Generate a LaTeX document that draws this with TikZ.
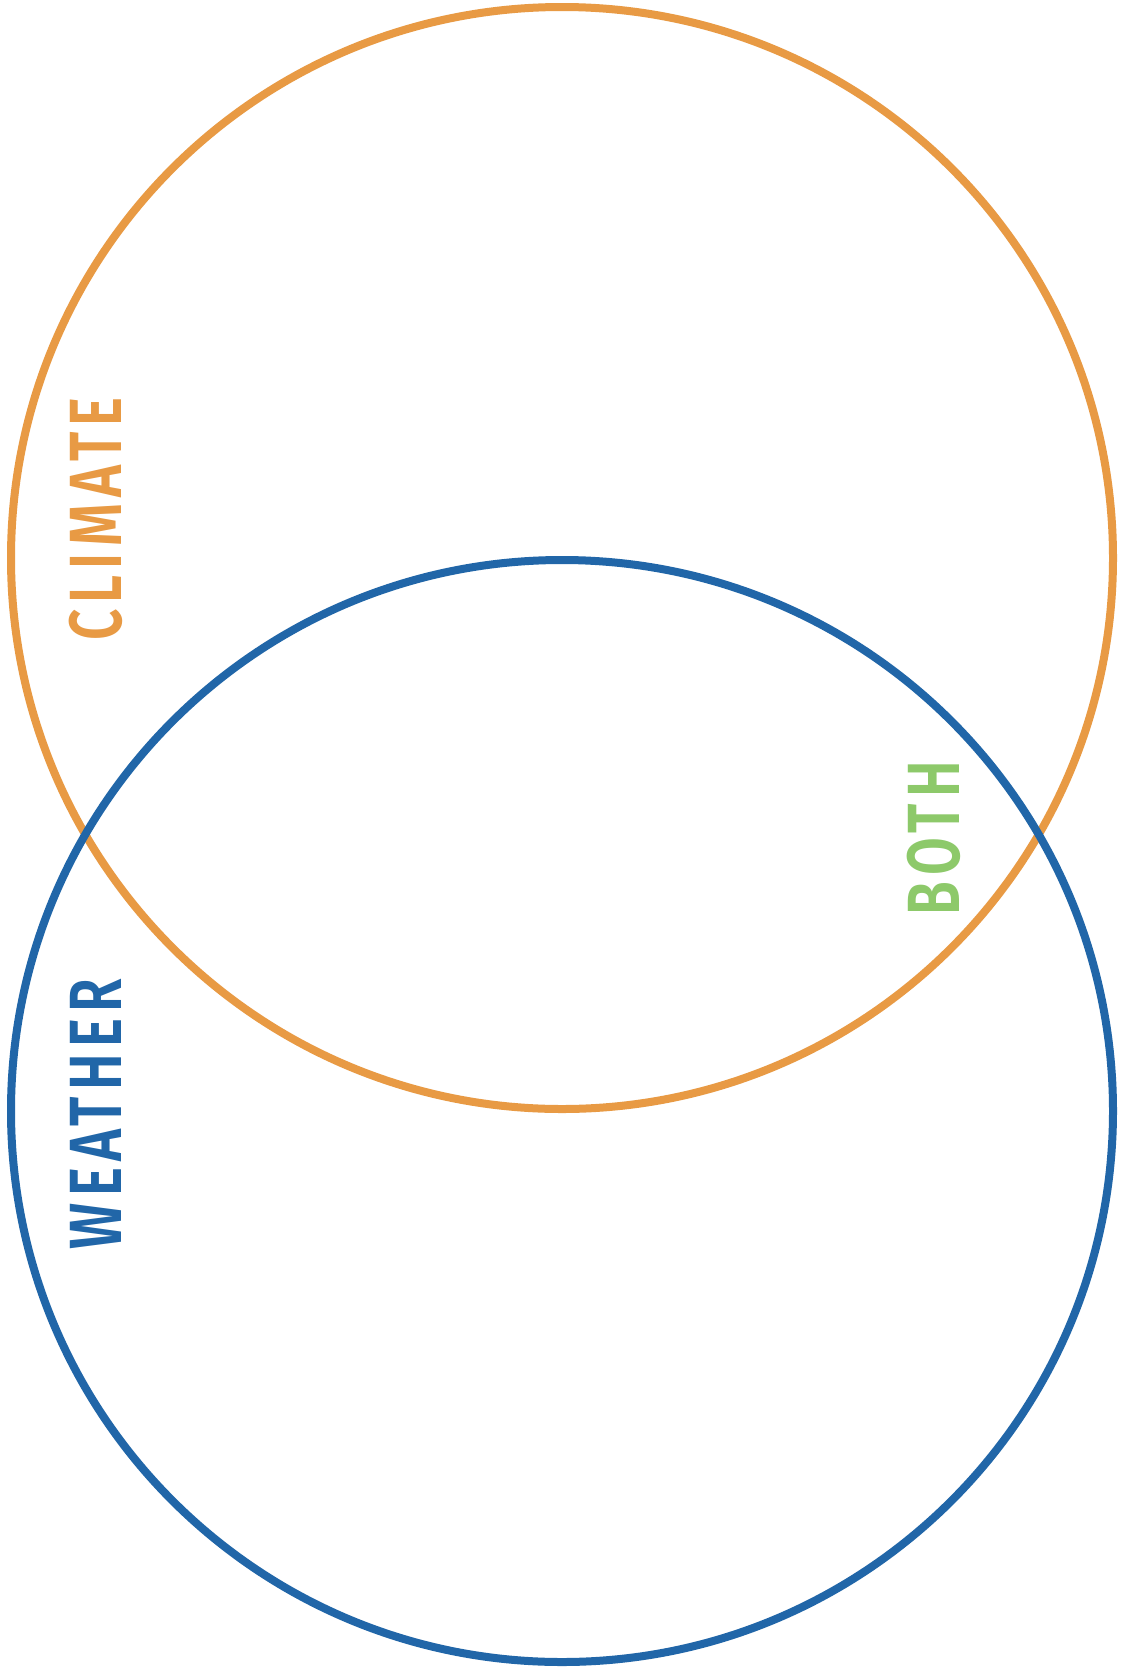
\documentclass[tikz,border=0pt]{standalone}
\usepackage{fontspec}
\setmainfont{Fira Sans}
\newfontfamily\labelfont[FakeStretch=0.74,LetterSpace=8.5,UprightFont={* SemiBold}]{Fira Sans}
\definecolor{climateorange}{HTML}{E89A44}
\definecolor{weatherblue}{HTML}{2166A8}
\definecolor{bothgreen}{HTML}{8DC96A}
\begin{document}
\begin{tikzpicture}[x=1pt,y=1pt,
  ring/.style={line width=8pt},
  setlabel/.style={rotate=90,inner sep=0pt,font=\labelfont\fontsize{74}{74}\selectfont}]
\useasboundingbox (0,0) rectangle (1124,-1668);
\fill[white] (0,0) rectangle (1124,-1668);
\node[circle,ring,draw=climateorange,minimum size=1102pt,inner sep=0pt] (climate) at (562,-558) {};
\node[circle,ring,draw=weatherblue,minimum size=1102pt,inner sep=0pt] (weather) at (562,-1111) {};
\node[setlabel,text=climateorange] (tclimate) at (96,-519) {CLIMATE};
\node[setlabel,text=weatherblue] (tweather) at (96,-1114) {WEATHER};
\node[setlabel,text=bothgreen] (tboth) at (934,-838) {BOTH};
\end{tikzpicture}
\end{document}
